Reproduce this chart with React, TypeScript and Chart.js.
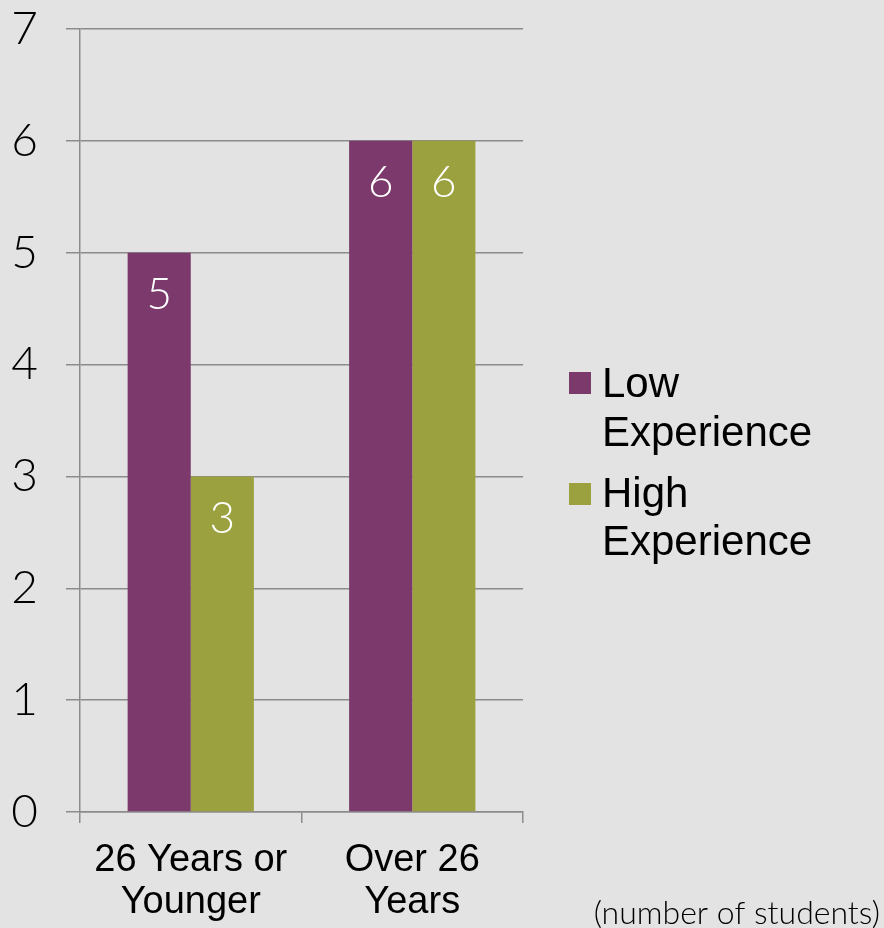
import React, { useEffect, useRef } from "react";
import { Chart, registerables } from "chart.js";

Chart.register(...registerables);

const categories = [["26 Years or", "Younger"], ["Over 26", "Years"]];
const seriesNames = [["Low", "Experience"], ["High", "Experience"]];
const lowExperience = [5, 6];
const highExperience = [3, 6];
const yMin = 0;
const yMax = 7;
const yStep = 1;
const note = "(number of students)";

const PURPLE = "#7c3a6c";
const OLIVE = "#9ca13f";
const GRID = "#8c8c8c";
const BG = "#e3e3e3";

const valueLabels = {
  id: "valueLabels",
  afterDatasetsDraw(chart: any) {
    const ctx = chart.ctx;
    ctx.save();
    ctx.fillStyle = "#ffffff";
    ctx.font = '300 44px Lato, "DejaVu Sans", sans-serif';
    ctx.textAlign = "center";
    ctx.textBaseline = "middle";
    chart.data.datasets.forEach((ds: any, i: number) => {
      const meta = chart.getDatasetMeta(i);
      meta.data.forEach((bar: any, j: number) => {
        ctx.fillText(String(ds.data[j]), bar.x, bar.y + 42);
      });
    });
    ctx.restore();
  },
};

const sideLegend = {
  id: "sideLegend",
  afterDraw(chart: any) {
    const ctx = chart.ctx;
    ctx.save();
    const x0 = 569;
    const tops = [372, 483];
    const baselines = [[397, 446], [507, 555]];
    chart.data.datasets.forEach((ds: any, i: number) => {
      ctx.fillStyle = ds.backgroundColor;
      ctx.fillRect(x0, tops[i], 22, 22);
      ctx.fillStyle = "#000";
      ctx.font = '42px "Liberation Sans", Arial, sans-serif';
      ctx.textAlign = "left";
      ctx.textBaseline = "alphabetic";
      seriesNames[i].forEach((line, k) => {
        ctx.fillText(line, 602, baselines[i][k]);
      });
    });
    ctx.font = '300 32px Lato, "DejaVu Sans", sans-serif';
    ctx.textAlign = "right";
    ctx.textBaseline = "middle";
    ctx.fillStyle = "#000";
    ctx.fillText(note, 880, 914);
    ctx.restore();
  },
};

export default function App() {
  const ref = useRef<HTMLCanvasElement | null>(null);

  useEffect(() => {
    document.body.style.margin = "0";
    document.body.style.background = BG;
    if (!ref.current) return;
    const chart = new Chart(ref.current, {
      type: "bar",
      data: {
        labels: categories as any,
        datasets: [
          {
            label: seriesNames[0].join(" "),
            data: lowExperience,
            backgroundColor: PURPLE,
            categoryPercentage: 0.57,
            barPercentage: 1,
          },
          {
            label: seriesNames[1].join(" "),
            data: highExperience,
            backgroundColor: OLIVE,
            categoryPercentage: 0.57,
            barPercentage: 1,
          },
        ],
      },
      options: {
        animation: false,
        responsive: false,
        maintainAspectRatio: false,
        layout: { padding: { top: 29, right: 361, bottom: 0, left: 0 } },
        plugins: {
          legend: { display: false },
          tooltip: { enabled: false },
        },
        scales: {
          x: {
            grid: {
              drawOnChartArea: false,
              drawTicks: true,
              tickLength: 11,
              color: GRID,
              lineWidth: 1.5,
              offset: true,
            },
            border: { display: true, color: GRID, width: 1.5 },
            ticks: {
              color: "#000",
              font: { family: '"Liberation Sans Narrow", "Liberation Sans", Arial, sans-serif', size: 38, lineHeight: 1.1 },
              padding: 17,
              maxRotation: 0,
              autoSkip: false,
            },
            afterFit(scale: any) {
              scale.height = 116;
              scale.paddingLeft = 0;
              scale.paddingRight = 0;
            },
          },
          y: {
            min: yMin,
            max: yMax,
            ticks: {
              stepSize: yStep,
              color: "#000",
              font: { family: 'Lato, "DejaVu Sans", sans-serif', size: 46, weight: "300" as any, lineHeight: 1.2 },
              padding: 28,
            },
            grid: { color: GRID, lineWidth: 1.5, tickLength: 14 },
            border: { display: true, color: GRID, width: 1.5 },
            afterFit(scale: any) {
              scale.width = 80;
              scale.paddingTop = 0;
              scale.paddingBottom = 0;
            },
          },
        },
      },
      plugins: [valueLabels, sideLegend],
    });
    return () => chart.destroy();
  }, []);

  return (
    <div style={{ width: 884, height: 928, background: BG, position: "relative" }}>
      <canvas ref={ref} width={884} height={928} style={{ display: "block" }} />
    </div>
  );
}
